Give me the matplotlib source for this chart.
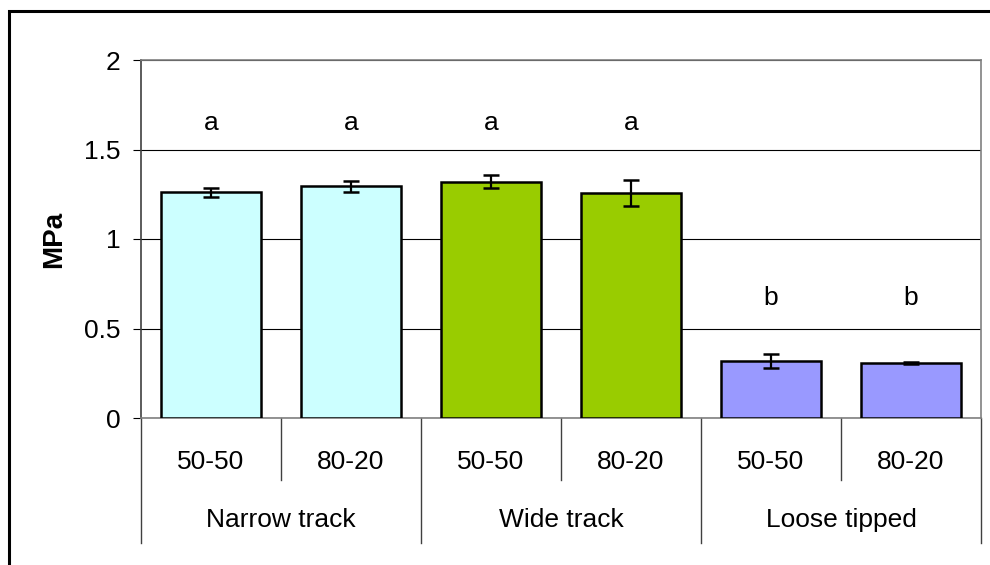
import matplotlib
matplotlib.use("Agg")
import matplotlib.pyplot as plt
from matplotlib.lines import Line2D
from matplotlib.patches import Rectangle

plt.rcParams['font.family'] = ['Liberation Sans', 'DejaVu Sans']

# Data
groups = ["Narrow track", "Wide track", "Loose tipped"]
ratios = ["50-50", "80-20"]
values = [1.26, 1.295, 1.32, 1.257, 0.318, 0.307]
errors = [0.026, 0.031, 0.036, 0.07, 0.038, 0.005]
letters = ["a", "a", "a", "a", "b", "b"]
group_colors = ["#CCFFFF", "#99CC00", "#9999FF"]
y_ticks = [0, 0.5, 1, 1.5, 2]
y_tick_labels = ["0", "0.5", "1", "1.5", "2"]

FS = 19
W, H = 990, 565
fig = plt.figure(figsize=(W / 100, H / 100), dpi=100)

# Outer chart frame
fig.add_artist(Rectangle((9 / W, -0.1), 1.2, 1 - 11 / H + 0.1, transform=fig.transFigure,
                         fill=False, edgecolor="black", linewidth=2.2))

left, right, top, bottom = 141, 981, 60, 418
ax = fig.add_axes([left / W, 1 - bottom / H, (right - left) / W, (bottom - top) / H])

n = len(values)
x = list(range(n))
colors = [group_colors[i // 2] for i in range(n)]

ax.set_ylim(0, 2)
ax.set_xlim(-0.5, n - 0.5)
ax.set_yticks(y_ticks)
ax.set_yticklabels(y_tick_labels, fontsize=FS)
ax.set_xticks([])
ax.yaxis.grid(True, color="black", linewidth=0.8)
ax.set_axisbelow(True)
ax.tick_params(axis="y", length=6, width=0.8, color="black", pad=9)

for s in ["top", "right", "bottom"]:
    ax.spines[s].set_color("#808080")
    ax.spines[s].set_linewidth(1.2)
ax.spines["left"].set_color("#404040")
ax.spines["left"].set_linewidth(1.2)

ax.bar(x, values, width=0.72, color=colors, edgecolor="black", linewidth=1.8, zorder=3)
ax.errorbar(x, values, yerr=errors, fmt="none", ecolor="black", elinewidth=1.6,
            capsize=5.5, capthick=1.8, zorder=4)

letter_y = {"a": 1.65, "b": 0.67}
for xi, lt in zip(x, letters):
    ax.text(xi, letter_y[lt], lt, ha="center", va="center", fontsize=FS)

ax.set_ylabel("MPa", fontsize=FS + 1, fontweight="bold")
ax.yaxis.set_label_coords(-(141 - 67) / (right - left), 0.5)

# Two-level category axis
trans = ax.get_xaxis_transform()
inner_y = -62 / (bottom - top)
outer_y = -125 / (bottom - top)
for b in range(n + 1):
    xb = b - 0.5
    depth = outer_y if b % 2 == 0 else inner_y
    ax.add_line(Line2D([xb, xb], [0, depth], transform=trans, color="#404040",
                       linewidth=1.0, clip_on=False))
for xi in x:
    ax.text(xi, -44 / (bottom - top), ratios[xi % 2], transform=trans,
            ha="center", va="center", fontsize=FS)
for gi, g in enumerate(groups):
    ax.text(2 * gi + 0.5, -102 / (bottom - top), g, transform=trans,
            ha="center", va="center", fontsize=FS)

fig.savefig("out.png", dpi=100)
